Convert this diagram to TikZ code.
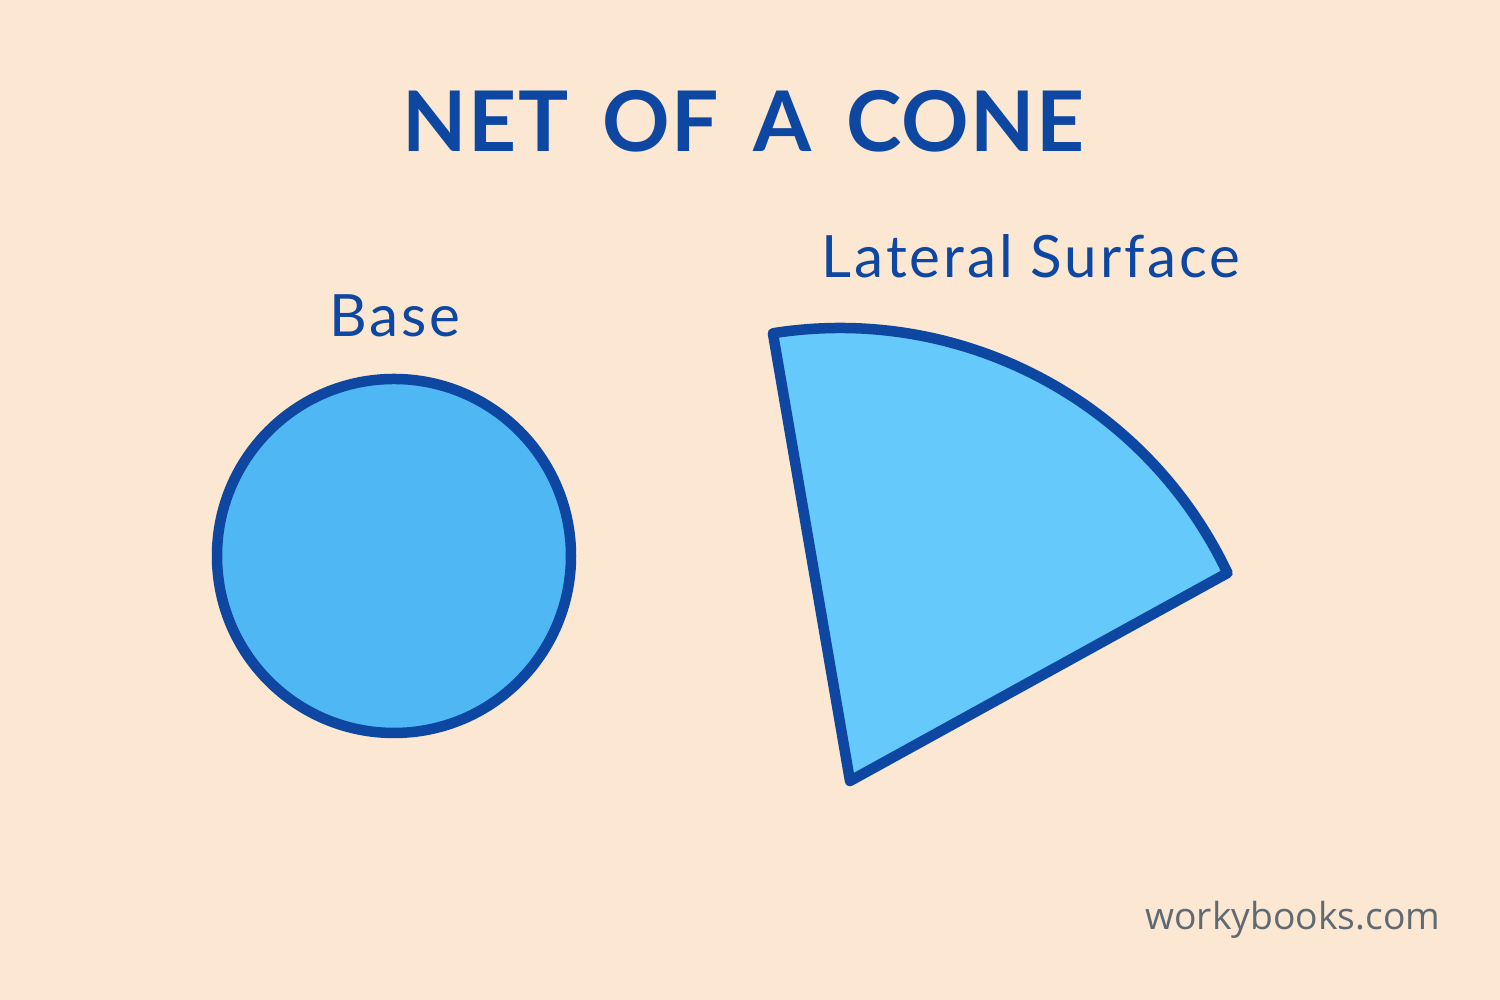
\documentclass[tikz,border=0pt]{standalone}
\usepackage{fontspec}
\setmainfont{Lato}
\newfontfamily\titlefont[LetterSpace=1.5, WordSpace=1.6]{Lato}
\newfontfamily\labelfont[LetterSpace=5]{Lato}
\newfontfamily\markfont{Open Sans}
\definecolor{bgc}{HTML}{FCE8D2}
\definecolor{edgec}{HTML}{0D47A1}
\definecolor{basec}{HTML}{4FB8F4}
\definecolor{latc}{HTML}{66C9FB}
\definecolor{markc}{HTML}{5F6A72}
\tikzset{
  shapeedge/.style={draw=edgec, line width=0.105cm, line join=round},
  label text/.style={text=edgec, font=\labelfont\fontsize{16.6}{20}\selectfont, inner sep=0pt, anchor=base},
}
\begin{document}
\begin{tikzpicture}
\fill[bgc] (0,0) rectangle (15,10);
\useasboundingbox (0,0) rectangle (15,10);
% title
\node[text=edgec, font=\titlefont\bfseries\fontsize{23.8}{28}\selectfont, inner sep=0pt, anchor=base] (title) at (7.435,8.48) {NET OF A CONE};
% base circle
\node[circle, shapeedge, fill=basec, minimum size=3.54cm, inner sep=0pt] (base) at (3.94,4.44) {};
\node[label text] (baselbl) at (3.95,6.63) {Base};
% lateral surface sector
\coordinate (apex) at (8.50,2.19);
\coordinate (arcA) at (7.729,6.667);
\path[shapeedge, fill=latc] (apex) -- (arcA) arc[start angle=99, end angle=25.4, radius=4.29cm] -- cycle;
\node[label text] (latlbl) at (10.31,7.22) {Lateral Surface};
% watermark
\node[text=markc, font=\markfont\fontsize{10.6}{12}\selectfont, inner sep=0pt, anchor=base] (mark) at (12.93,0.70) {workybooks.com};
\end{tikzpicture}
\end{document}
